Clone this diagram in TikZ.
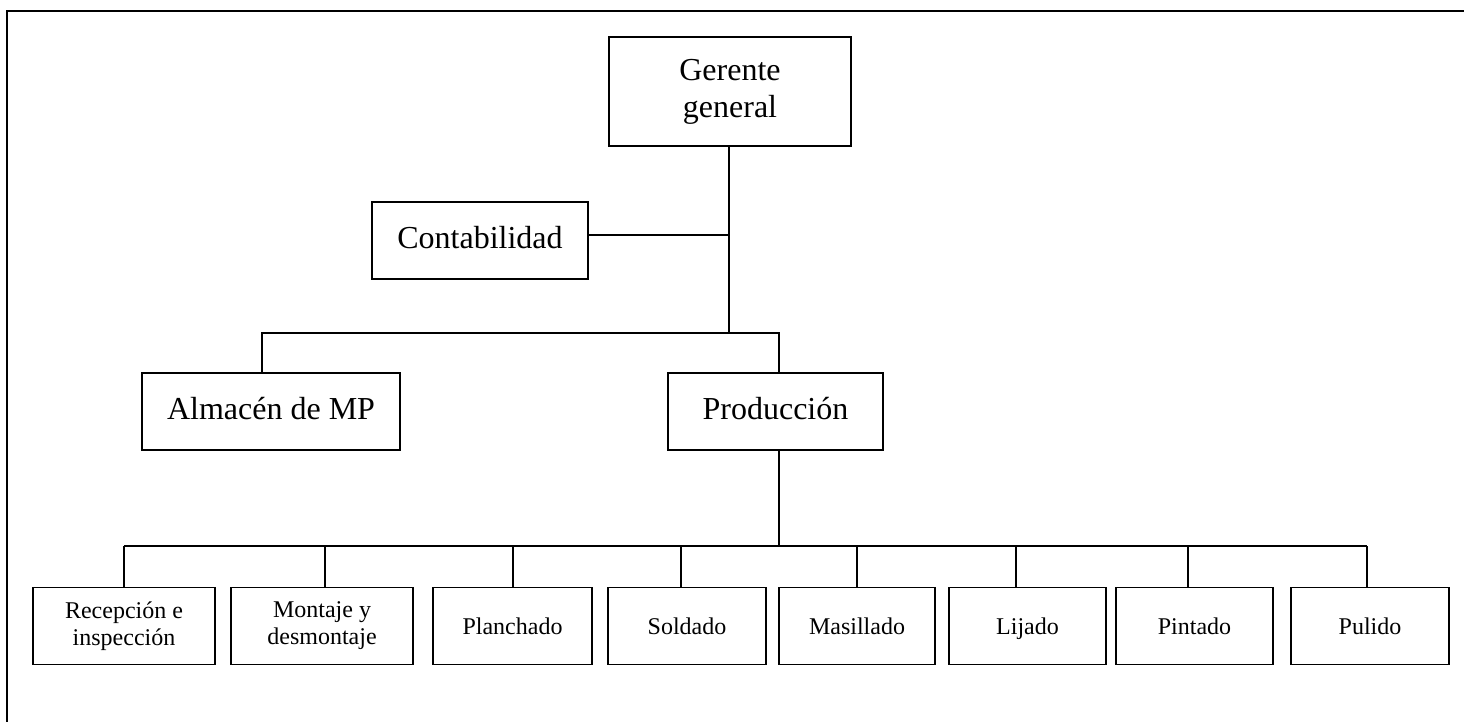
\documentclass[tikz,border=0pt]{standalone}
\usepackage{fontspec}
\setmainfont{Liberation Serif}
\begin{document}
\begin{tikzpicture}[x=1pt,y=-1pt,
  box/.style={draw=black,line width=1.4pt,rectangle,inner sep=0pt,align=center},
  big/.style={box,font=\fontsize{32}{37}\selectfont,minimum height=77pt},
  small/.style={box,font=\fontsize{24}{27}\selectfont,minimum height=77pt},
  one/.style={text height=17pt,text depth=0.5pt},
  conn/.style={draw=black,line width=1.2pt}]
\useasboundingbox (0,0) rectangle (1464,722);
\draw[line width=2pt] (1464,11) -- (7,11) -- (7,722);
% top level
\node[big,minimum width=242pt,minimum height=109pt] (ger) at (730,91.5) {Gerente\\general};
\node[big,minimum width=216pt] (con) at (480,240.5) {\raisebox{7pt}{Contabilidad}};
\node[big,minimum width=258pt] (alm) at (271,411.5) {\raisebox{7pt}{Almacén de MP}};
\node[big,minimum width=215pt] (pro) at (775.5,411.5) {\raisebox{7pt}{Producción}};
% bottom level
\node[small,minimum width=182pt] (b1) at (124,626) {Recepción e\\inspección};
\node[small,minimum width=182pt] (b2) at (322,626) {Montaje y\\desmontaje};
\node[small,one,minimum width=159pt] (b3) at (512.5,626) {Planchado};
\node[small,one,minimum width=158pt] (b4) at (687,626) {Soldado};
\node[small,one,minimum width=156pt] (b5) at (857,626) {Masillado};
\node[small,one,minimum width=157pt] (b6) at (1027.5,626) {Lijado};
\node[small,one,minimum width=157pt] (b7) at (1194.5,626) {Pintado};
\node[small,one,minimum width=158pt] (b8) at (1370,626) {Pulido};
% junctions
\coordinate (j0) at (729,235);
\coordinate (j1) at (729,333);
\coordinate (a1) at (262,333);
\coordinate (p1) at (779,333);
\coordinate (p2) at (779,546);
\coordinate (d1) at (124,546);
\coordinate (d2) at (325,546);
\coordinate (d3) at (513,546);
\coordinate (d4) at (681,546);
\coordinate (d5) at (857,546);
\coordinate (d6) at (1016,546);
\coordinate (d7) at (1188,546);
\coordinate (d8) at (1367,546);
% connectors
\draw[conn] (ger.south -| j1) -- (j1);
\draw[conn] (con.east |- j0) -- (j0);
\draw[conn] (a1 |- alm.north) -- (a1) -- (p1) -- (p1 |- pro.north);
\draw[conn] (p2 |- pro.south) -- (p2);
\draw[conn] (d1) -- (d8);
\foreach \i in {1,...,8}{
  \draw[conn] (d\i) -- (d\i |- b\i.north);
}
\end{tikzpicture}
\end{document}
